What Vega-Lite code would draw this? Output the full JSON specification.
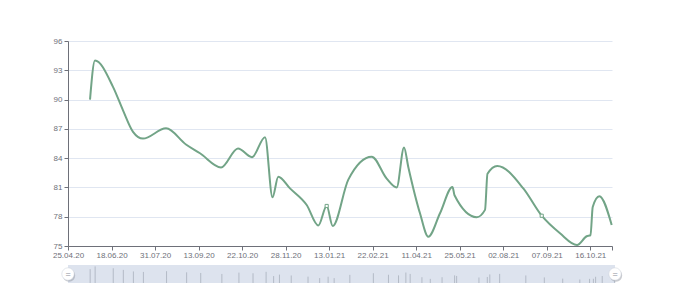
{
  "$schema": "https://vega.github.io/schema/vega-lite/v6.json",
  "background": "white",
  "padding": {"left": 52, "top": 37, "right": 2, "bottom": 2},
  "config": {"view": {"stroke": null}, "font": "Liberation Sans"},
  "datasets": {
    "series": [
      {"i": 5.06, "v": 90.0}, {"i": 6.2, "v": 94.0}, {"i": 10.34, "v": 91.3}, {"i": 12.64, "v": 88.9},
      {"i": 14.94, "v": 86.7}, {"i": 17.23, "v": 86.0}, {"i": 22.52, "v": 87.05}, {"i": 27.11, "v": 85.4},
      {"i": 30.33, "v": 84.5}, {"i": 35.16, "v": 83.05}, {"i": 39.06, "v": 85.0}, {"i": 42.28, "v": 84.1},
      {"i": 45.27, "v": 86.15}, {"i": 46.99, "v": 80.0}, {"i": 48.32, "v": 82.1}, {"i": 51.01, "v": 80.9},
      {"i": 54.85, "v": 79.2}, {"i": 57.51, "v": 77.1}, {"i": 59.44, "v": 79.1, "m": 1}, {"i": 60.82, "v": 77.05},
      {"i": 64.41, "v": 81.8}, {"i": 69.78, "v": 84.15}, {"i": 73.23, "v": 81.9}, {"i": 75.53, "v": 81.0},
      {"i": 77.21, "v": 85.1}, {"i": 78.19, "v": 83.1}, {"i": 80.88, "v": 78.35}, {"i": 82.79, "v": 75.95},
      {"i": 85.48, "v": 78.35}, {"i": 88.35, "v": 81.05}, {"i": 88.81, "v": 80.2}, {"i": 93.91, "v": 77.95},
      {"i": 95.82, "v": 78.7}, {"i": 96.39, "v": 82.4}, {"i": 98.64, "v": 83.2}, {"i": 104.62, "v": 80.9},
      {"i": 108.85, "v": 78.1, "m": 1}, {"i": 113.05, "v": 76.3}, {"i": 116.96, "v": 75.1}, {"i": 119.19, "v": 76.0},
      {"i": 120.06, "v": 76.1}, {"i": 120.57, "v": 79.0}, {"i": 122.08, "v": 80.1}, {"i": 124.93, "v": 77.15}
    ],
    "zoom": [{"start": 0, "end": 125}],
    "handles": [{"h": 0}, {"h": 125}]
  },
  "spacing": 6,
  "vconcat": [
    {
      "width": 544,
      "height": 205,
      "data": {"name": "series"},
      "encoding": {
        "x": {
          "field": "i", "type": "quantitative",
          "scale": {"domain": [0, 125], "nice": false, "zero": false},
          "axis": {
            "title": null, "grid": false,
            "values": [0, 10, 20, 30, 40, 50, 60, 70, 80, 90, 100, 110, 120, 125],
            "labelExpr": "datum.value % 10 == 0 ? ['25.04.20','18.06.20','31.07.20','13.09.20','22.10.20','28.11.20','13.01.21','22.02.21','11.04.21','25.05.21','02.08.21','07.09.21','16.10.21'][datum.value / 10] : ''",
            "labelFontSize": 8, "labelColor": "#6E7079", "labelFlush": false, "labelOverlap": false,
            "labelPadding": 1, "tickSize": 4, "tickColor": "#6E7079", "domainColor": "#6E7079"
          }
        },
        "y": {
          "field": "v", "type": "quantitative",
          "scale": {"domain": [75, 96], "nice": false, "zero": false},
          "axis": {
            "title": null, "values": [75, 78, 81, 84, 87, 90, 93, 96],
            "grid": true, "gridColor": "#E0E6F1", "gridWidth": 1,
            "labelFontSize": 8, "labelColor": "#6E7079", "labelPadding": 2,
            "tickSize": 4, "tickColor": "#6E7079", "domainColor": "#6E7079"
          }
        }
      },
      "layer": [
        {"mark": {"type": "line", "interpolate": "monotone", "color": "#72a487", "strokeWidth": 2}},
        {
          "transform": [{"filter": "datum.m == 1"}],
          "mark": {"type": "point", "shape": "square", "size": 10, "filled": true, "fill": "white", "stroke": "#72a487", "strokeWidth": 1, "opacity": 1}
        }
      ]
    },
    {
      "width": 547,
      "height": 18,
      "layer": [
        {
          "data": {"name": "zoom"},
          "mark": {"type": "rect", "color": "#dde3ee"},
          "encoding": {
            "x": {"field": "start", "type": "quantitative", "scale": {"domain": [0, 125], "nice": false, "zero": false}, "axis": null},
            "x2": {"field": "end"}
          }
        },
        {
          "data": {"name": "series"},
          "mark": {"type": "rule", "color": "#b3bac6", "strokeWidth": 1},
          "encoding": {
            "x": {"field": "i", "type": "quantitative", "scale": {"domain": [0, 125], "nice": false, "zero": false}, "axis": null},
            "y": {"field": "v", "type": "quantitative", "scale": {"domain": [70, 96], "nice": false, "zero": false}, "axis": null},
            "y2": {"datum": 70}
          }
        },
        {
          "data": {"name": "handles"},
          "mark": {"type": "circle", "size": 154, "color": "#8a8f99", "opacity": 0.45, "xOffset": 1, "yOffset": 1.5},
          "encoding": {"x": {"field": "h", "type": "quantitative", "scale": {"domain": [0, 125], "nice": false, "zero": false}, "axis": null}}
        },
        {
          "data": {"name": "handles"},
          "mark": {"type": "circle", "size": 154, "color": "white", "opacity": 1, "stroke": "#c8ced8", "strokeWidth": 0.5},
          "encoding": {"x": {"field": "h", "type": "quantitative", "scale": {"domain": [0, 125], "nice": false, "zero": false}, "axis": null}}
        },
        {
          "data": {"name": "handles"},
          "mark": {"type": "text", "text": "=", "fontSize": 9, "color": "#8a8f99", "baseline": "middle", "align": "center"},
          "encoding": {"x": {"field": "h", "type": "quantitative", "scale": {"domain": [0, 125], "nice": false, "zero": false}, "axis": null}}
        }
      ]
    }
  ]
}
